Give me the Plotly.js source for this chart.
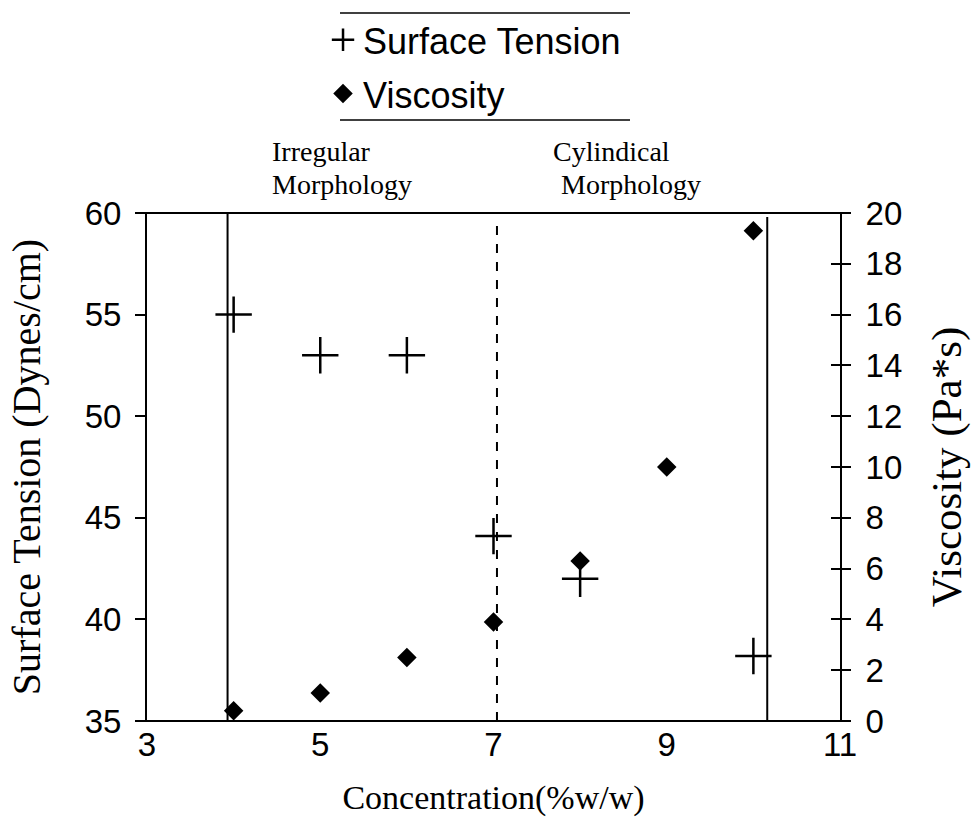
<!DOCTYPE html>
<html>
<head>
<meta charset="utf-8">
<script src="https://cdn.plot.ly/plotly-3.0.1.min.js"></script>
<style>html,body{margin:0;padding:0;background:#fff;overflow:hidden;}#chart{width:976px;height:829px;}</style>
</head>
<body>
<div id="chart"></div>
<script>
// Data
const stConc = [4, 5, 6, 7, 8, 10];
const surfaceTension = [55, 53, 53, 44.1, 42, 38.2];
const viscConc = [4, 5, 6, 7, 8, 9, 10];
const viscosity = [0.4, 1.1, 2.5, 3.9, 6.3, 10.0, 19.3];
const xTicks = [3, 5, 7, 9, 11];
const stTicks = [35, 40, 45, 50, 55, 60];
const viscTicks = [0, 2, 4, 6, 8, 10, 12, 14, 16, 18, 20];
const boundaryLeft = 3.93;
const boundaryMid = 7.04;
const boundaryRight = 10.16;

const traces = [
  {
    x: stConc, y: surfaceTension, name: 'Surface Tension', type: 'scatter', mode: 'markers',
    yaxis: 'y', legendgroup: 'a',
    marker: {symbol: 'cross-thin-open', size: 26, color: '#000', line: {color: '#000', width: 2.5}}
  },
  {
    x: viscConc, y: viscosity, name: 'Viscosity', type: 'scatter', mode: 'markers',
    yaxis: 'y2', legendgroup: 'b',
    marker: {symbol: 'diamond', size: 15, color: '#000'}
  },
  {
    x: [], y: [], yaxis: 'y3', showlegend: false, type: 'scatter', mode: 'markers'
  }
];

const serif = 'Liberation Serif, Times New Roman, serif';
const sans = 'Liberation Sans, Arial, sans-serif';

const layout = {
  width: 976, height: 829,
  margin: {l: 147, r: 136, t: 213, b: 108, autoexpand: false},
  paper_bgcolor: '#fff', plot_bgcolor: '#fff',
  showlegend: true,
  legend: {
    x: 0.254, y: 1.40, xanchor: 'left', yanchor: 'top',
    font: {family: sans, size: 36, color: '#000'},
    traceorder: 'grouped', tracegroupgap: 4,
    bgcolor: 'rgba(0,0,0,0)', itemsizing: 'trace'
  },
  xaxis: {
    range: [3, 11], tickvals: xTicks, ticktext: xTicks.map(String),
    ticks: '', showgrid: false, zeroline: false, showline: false,
    tickfont: {family: sans, size: 33, color: '#000'},
    ticklabelstandoff: 1, automargin: false,
    title: {text: 'Concentration(%w/w)', font: {family: serif, size: 34, color: '#000'}, standoff: 23}
  },
  yaxis: {
    range: [35, 60], tickvals: stTicks, ticks: 'outside', ticklen: 10, tickwidth: 2, tickcolor: '#000',
    showgrid: false, zeroline: false, showline: true, linecolor: '#000', linewidth: 2,
    tickfont: {family: sans, size: 33, color: '#000'},
    ticklabelstandoff: 7, automargin: false,
    title: {text: 'Surface Tension (Dynes/cm)', font: {family: serif, size: 40, color: '#000'}, standoff: 32}
  },
  yaxis2: {
    range: [0, 20], tickvals: viscTicks, overlaying: 'y', side: 'right',
    ticks: 'outside', ticklen: 9, tickwidth: 2, tickcolor: '#000',
    showgrid: false, zeroline: false, showline: true, linecolor: '#000', linewidth: 2,
    tickfont: {family: sans, size: 33, color: '#000'},
    ticklabelstandoff: 8, automargin: false,
    title: {text: 'Viscosity (Pa*s)', font: {family: serif, size: 43, color: '#000'}, standoff: 30}
  },
  yaxis3: {
    range: [0, 20], tickvals: viscTicks, overlaying: 'y', side: 'right',
    ticks: 'inside', ticklen: 9, tickwidth: 2, tickcolor: '#000', automargin: false,
    showgrid: false, zeroline: false, showline: false, showticklabels: false
  },
  shapes: [
    {type: 'line', xref: 'paper', yref: 'paper', x0: -0.0144, x1: 1.0144, y0: 1, y1: 1, line: {color: '#000', width: 2}},
    {type: 'line', xref: 'paper', yref: 'paper', x0: -0.0144, x1: 1.0144, y0: 0, y1: 0, line: {color: '#000', width: 2}},
    {type: 'line', xref: 'x', yref: 'y', x0: boundaryLeft, x1: boundaryLeft, y0: 35, y1: 60, line: {color: '#000', width: 2}},
    {type: 'line', xref: 'x', yref: 'y', x0: boundaryMid, x1: boundaryMid, y0: 35, y1: 59.7, line: {color: '#000', width: 2, dash: 'dash'}},
    {type: 'line', xref: 'x', yref: 'y', x0: boundaryRight, x1: boundaryRight, y0: 35, y1: 59.8, line: {color: '#000', width: 2}},
    {type: 'line', xref: 'paper', yref: 'paper', x0: 0.2785, x1: 0.697, y0: 1.3937, y1: 1.3937, line: {color: '#000', width: 1.5}},
    {type: 'line', xref: 'paper', yref: 'paper', x0: 0.2785, x1: 0.697, y0: 1.183, y1: 1.183, line: {color: '#000', width: 1.5}}
  ],
  annotations: [
    {text: 'Irregular', xref: 'x', yref: 'paper', x: 4.42, y: 1.122, xanchor: 'left', yanchor: 'middle', showarrow: false, font: {family: serif, size: 28, color: '#000'}},
    {text: 'Morphology', xref: 'x', yref: 'paper', x: 4.42, y: 1.056, xanchor: 'left', yanchor: 'middle', showarrow: false, font: {family: serif, size: 28, color: '#000'}},
    {text: 'Cylindical', xref: 'x', yref: 'paper', x: 7.66, y: 1.122, xanchor: 'left', yanchor: 'middle', showarrow: false, font: {family: serif, size: 28, color: '#000'}},
    {text: 'Morphology', xref: 'x', yref: 'paper', x: 7.76, y: 1.056, xanchor: 'left', yanchor: 'middle', showarrow: false, font: {family: serif, size: 28, color: '#000'}}
  ]
};

Plotly.newPlot('chart', traces, layout, {staticPlot: true, displayModeBar: false});
</script>
</body>
</html>
